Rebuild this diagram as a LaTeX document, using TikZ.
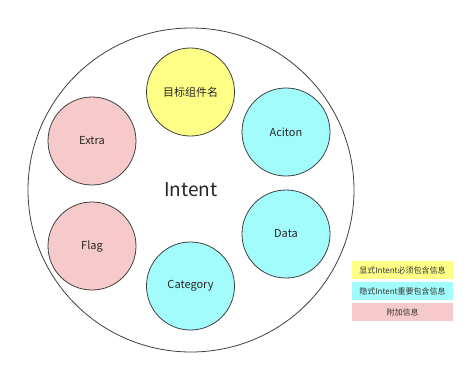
\documentclass[tikz,border=0pt]{standalone}
\usepackage{fontspec}
\usetikzlibrary{shapes.geometric}
\setmainfont{Noto Sans CJK SC}
\begin{document}
\begin{tikzpicture}[x=1pt,y=-1pt,
  bubble/.style={circle,draw=black!75,line width=0.8pt,minimum size=88pt,inner sep=0pt,font=\fontsize{11}{13}\selectfont,text=black!85},
  legend/.style={minimum width=101pt,minimum height=18pt,inner sep=0pt,font=\fontsize{8}{9}\selectfont,text=black!80}]
\definecolor{ylw}{HTML}{FFFF88}
\definecolor{cyn}{HTML}{A3FCFC}
\definecolor{pnkc}{HTML}{F6CACA}
\useasboundingbox (0,0) rectangle (474,370);
\fill[white] (0,0) rectangle (474,370);
\node[ellipse,draw=black!75,line width=0.8pt,minimum width=326pt,minimum height=324pt,inner sep=0pt] (outer) at (191,190) {};
\node[font=\fontsize{19}{22}\selectfont,text=black!85] (intent) at (191,190) {Intent};
\node[bubble,fill=ylw] (target) at (190.5,92) {目标组件名};
\node[bubble,fill=cyn] (action) at (286,132) {Aciton};
\node[bubble,fill=cyn] (data) at (286,234) {Data};
\node[bubble,fill=cyn] (category) at (190.5,286) {Category};
\node[bubble,fill=pnkc] (extra) at (92,141) {Extra};
\node[bubble,fill=pnkc] (flag) at (92,246) {Flag};
\node[legend,fill=ylw] (l1) at (402.5,270) {显式Intent必须包含信息};
\node[legend,fill=cyn] (l2) at (402.5,291) {隐式Intent重要包含信息};
\node[legend,fill=pnkc] (l3) at (402.5,312) {附加信息};
\end{tikzpicture}
\end{document}
